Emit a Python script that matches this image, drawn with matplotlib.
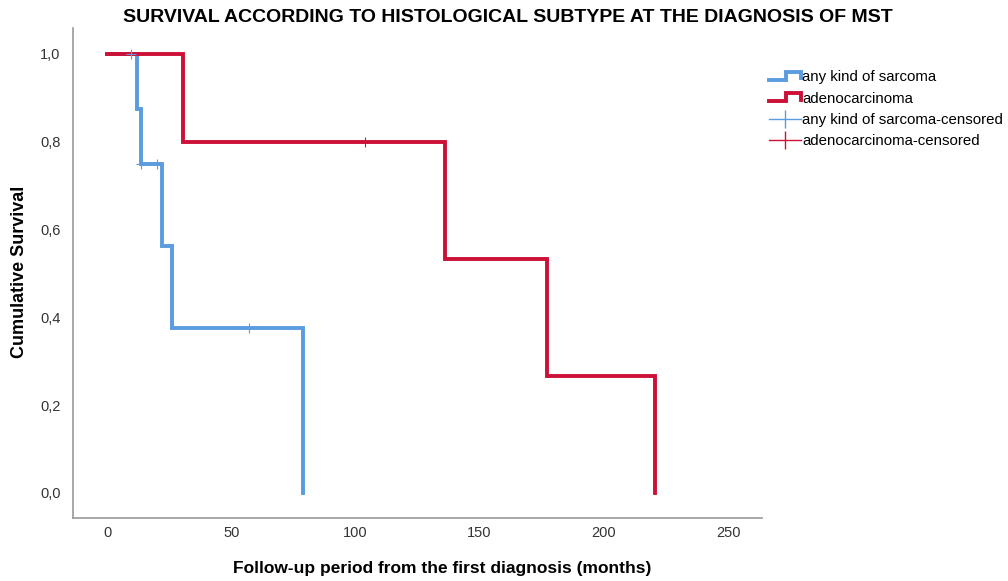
import matplotlib.pyplot as plt
from matplotlib.legend_handler import HandlerBase
from matplotlib.lines import Line2D

plt.rcParams['font.family'] = ['Liberation Sans', 'DejaVu Sans']

# Kaplan-Meier step data (months, cumulative survival)
sarcoma_t = [0, 12, 13.5, 22, 26, 79]
sarcoma_s = [1.0, 0.875, 0.75, 0.5625, 0.375, 0.0]
sarcoma_cens_t = [9.5, 13.5, 20, 57]
sarcoma_cens_s = [1.0, 0.75, 0.75, 0.375]

adeno_t = [0, 30.5, 136, 177, 220.5]
adeno_s = [1.0, 0.8, 0.5333, 0.2667, 0.0]
adeno_cens_t = [104]
adeno_cens_s = [0.8]

xticks = [0, 50, 100, 150, 200, 250]
yticks = [0.0, 0.2, 0.4, 0.6, 0.8, 1.0]
ytick_labels = ["0,0", "0,2", "0,4", "0,6", "0,8", "1,0"]

blue = '#5b9bdf'
red = '#cc1037'


def km_path(t, s):
    # build the step line: horizontal then drop at each event
    xs, ys = [t[0]], [s[0]]
    for i in range(1, len(t)):
        xs += [t[i], t[i]]
        ys += [s[i - 1], s[i]]
    return xs, ys


class StepHandler(HandlerBase):
    def create_artists(self, legend, orig_handle, xdescent, ydescent,
                       width, height, fontsize, trans):
        w, h = width, height
        xs = [0, 0.55 * w, 0.55 * w, w, w]
        ys = [0.15 * h, 0.15 * h, 0.95 * h, 0.95 * h, 0.3 * h]
        ln = Line2D(xs, ys, color=orig_handle.get_color(),
                    lw=orig_handle.get_linewidth(), transform=trans,
                    solid_joinstyle='miter')
        return [ln]


fig = plt.figure(figsize=(10.08, 5.81), dpi=100)
ax = fig.add_axes([0.0724, 0.1084, 0.6836, 0.8434])

xs, ys = km_path(sarcoma_t, sarcoma_s)
l_sarc, = ax.plot(xs, ys, color=blue, lw=2.8, solid_joinstyle='miter')
xs, ys = km_path(adeno_t, adeno_s)
l_adeno, = ax.plot(xs, ys, color=red, lw=2.8, solid_joinstyle='miter')

c_sarc, = ax.plot(sarcoma_cens_t, sarcoma_cens_s, ls='none', marker='+',
                  ms=7, mew=0.8, color=blue)
c_adeno, = ax.plot(adeno_cens_t, adeno_cens_s, ls='none', marker='+',
                   ms=7, mew=0.8, color=red)

ax.set_xlim(-13.7, 263.7)
ax.set_ylim(-0.057, 1.059)
ax.set_xticks(xticks)
ax.set_yticks(yticks)
ax.set_yticklabels(ytick_labels)
ax.tick_params(length=0, labelsize=10.5, colors='#333333')
ax.tick_params(axis='y', pad=9)
ax.tick_params(axis='x', pad=6)
for sp in ['top', 'right']:
    ax.spines[sp].set_visible(False)
for sp in ['left', 'bottom']:
    ax.spines[sp].set_color('#999999')
    ax.spines[sp].set_linewidth(1.2)

fig.text(442 / 1008, 1 - 568 / 581,
         'Follow-up period from the first diagnosis (months)',
         ha='center', va='center', fontsize=12.5, fontweight='bold')
fig.text(20 / 1008, 1 - 272 / 581, 'Cumulative Survival', rotation=90,
         ha='center', va='center', fontsize=13, fontweight='bold')
fig.text(0.504, 1 - 17 / 581,
         'SURVIVAL ACCORDING TO HISTOLOGICAL SUBTYPE AT THE DIAGNOSIS OF MST',
         ha='center', va='center', fontsize=14, fontweight='bold')

leg_sarc = Line2D([], [], color=blue, lw=2.8)
leg_adeno = Line2D([], [], color=red, lw=2.8)
leg_c_sarc = Line2D([], [], color=blue, lw=1.0, marker='|', ms=13, mew=1.0)
leg_c_adeno = Line2D([], [], color=red, lw=1.0, marker='|', ms=13, mew=1.0)
fig.legend([leg_sarc, leg_adeno, leg_c_sarc, leg_c_adeno],
           ['any kind of sarcoma', 'adenocarcinoma',
            'any kind of sarcoma-censored', 'adenocarcinoma-censored'],
           handler_map={leg_sarc: StepHandler(), leg_adeno: StepHandler()},
           loc='upper left', bbox_to_anchor=(0.757, 0.889), frameon=False,
           fontsize=10.8, handlelength=2.1, handletextpad=0.1,
           labelspacing=0.48, borderaxespad=0)

fig.savefig('out.png', dpi=100)
